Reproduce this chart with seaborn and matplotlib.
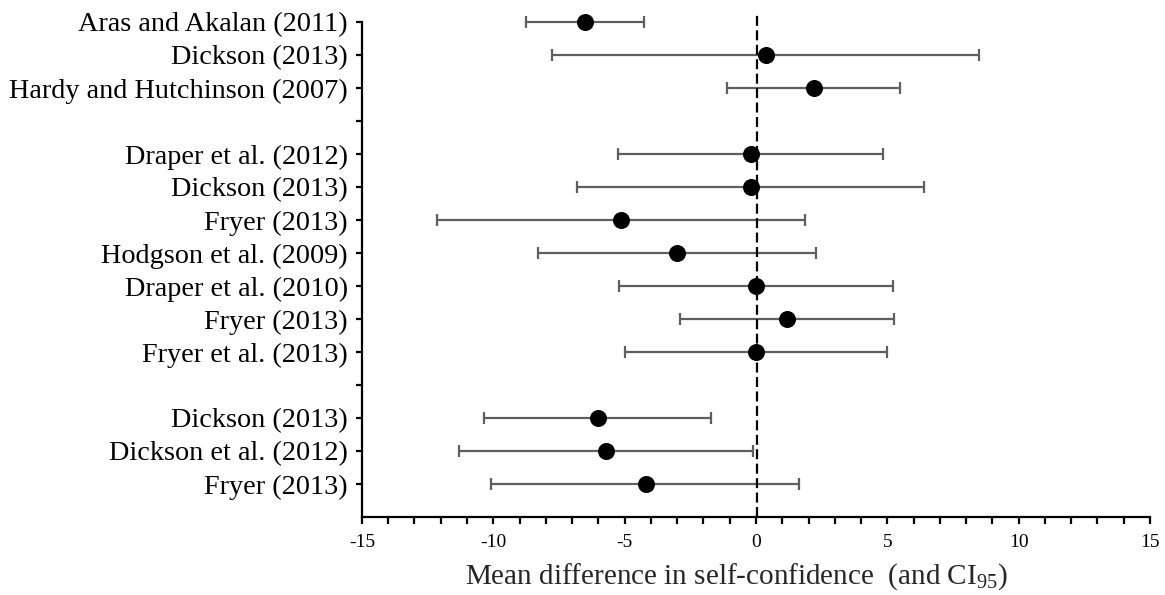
import numpy as np
import pandas as pd
import matplotlib
matplotlib.use("Agg")
import matplotlib.pyplot as plt
from matplotlib.ticker import FixedLocator
import seaborn as sns

# Studies grouped in three blocks, separated by an empty row
studies = [
    "Aras and Akalan (2011)", "Dickson (2013)", "Hardy and Hutchinson (2007)",
    "",
    "Draper et al. (2012)", "Dickson (2013)", "Fryer (2013)", "Hodgson et al. (2009)",
    "Draper et al. (2010)", "Fryer (2013)", "Fryer et al. (2013)",
    "",
    "Dickson (2013)", "Dickson et al. (2012)", "Fryer (2013)",
]
mean_diff = [-6.5, 0.4, 2.2, None, -0.2, -0.2, -5.15, -3.0, 0.0, 1.2, 0.0, None, -6.0, -5.7, -4.2]
ci_low = [-8.75, -7.75, -1.1, None, -5.25, -6.8, -12.15, -8.3, -5.2, -2.9, -5.0, None, -10.35, -11.3, -10.1]
ci_high = [-4.25, 8.5, 5.5, None, 4.85, 6.4, 1.87, 2.27, 5.2, 5.27, 5.0, None, -1.7, -0.1, 1.63]

df = pd.DataFrame({
    "study": studies,
    "row": np.arange(len(studies)),
    "mean": mean_diff,
    "low": ci_low,
    "high": ci_high,
}).dropna(subset=["mean"])

sns.set_theme(style="ticks")
plt.rcParams["font.family"] = ["Liberation Serif", "DejaVu Serif"]
plt.rcParams["mathtext.fontset"] = "custom"
plt.rcParams["mathtext.rm"] = "Liberation Serif"

fig = plt.figure(figsize=(11.65, 5.95), dpi=100)
ax = fig.add_axes([0.3107, 0.1311, 0.6764, 0.8487])

# confidence intervals
ax.errorbar(
    df["mean"], df["row"],
    xerr=[df["mean"] - df["low"], df["high"] - df["mean"]],
    fmt="none", ecolor="#5f5f5f", elinewidth=1.6, capsize=4.0, capthick=1.6, zorder=1,
)

# line of no difference
ax.axvline(0.05, color="black", linestyle=(0, (4.5, 2)), linewidth=1.6, zorder=2)

# point estimates
sns.scatterplot(data=df, x="mean", y="row", ax=ax, color="black", s=150,
                edgecolor="black", linewidth=0, zorder=3, legend=False)

ax.set_xlim(-15, 15)
ax.set_ylim(15, -0.3)
ax.set_xticks(np.arange(-15, 16, 1))
ax.set_xticklabels([str(v) if v % 5 == 0 else "" for v in range(-15, 16)])
ax.yaxis.set_major_locator(FixedLocator(np.arange(len(studies))))
ax.set_yticklabels(studies)

ax.spines["top"].set_visible(False)
ax.spines["right"].set_visible(False)
ax.spines["left"].set_bounds(0, 15)
for side in ("left", "bottom"):
    ax.spines[side].set_linewidth(1.6)
    ax.spines[side].set_color("black")

ax.tick_params(axis="x", direction="out", length=5, width=1.6, labelsize=14, pad=7, colors="black")
ax.tick_params(axis="y", direction="out", length=4, width=1.6, labelsize=20.3, pad=6, colors="black")

ax.set_xlabel(r"Mean difference in self-confidence  (and CI$_{95}$)", fontsize=21)
ax.xaxis.set_label_coords(0.475, -0.088)
ax.set_ylabel("")

fig.savefig("out.png", dpi=100)
